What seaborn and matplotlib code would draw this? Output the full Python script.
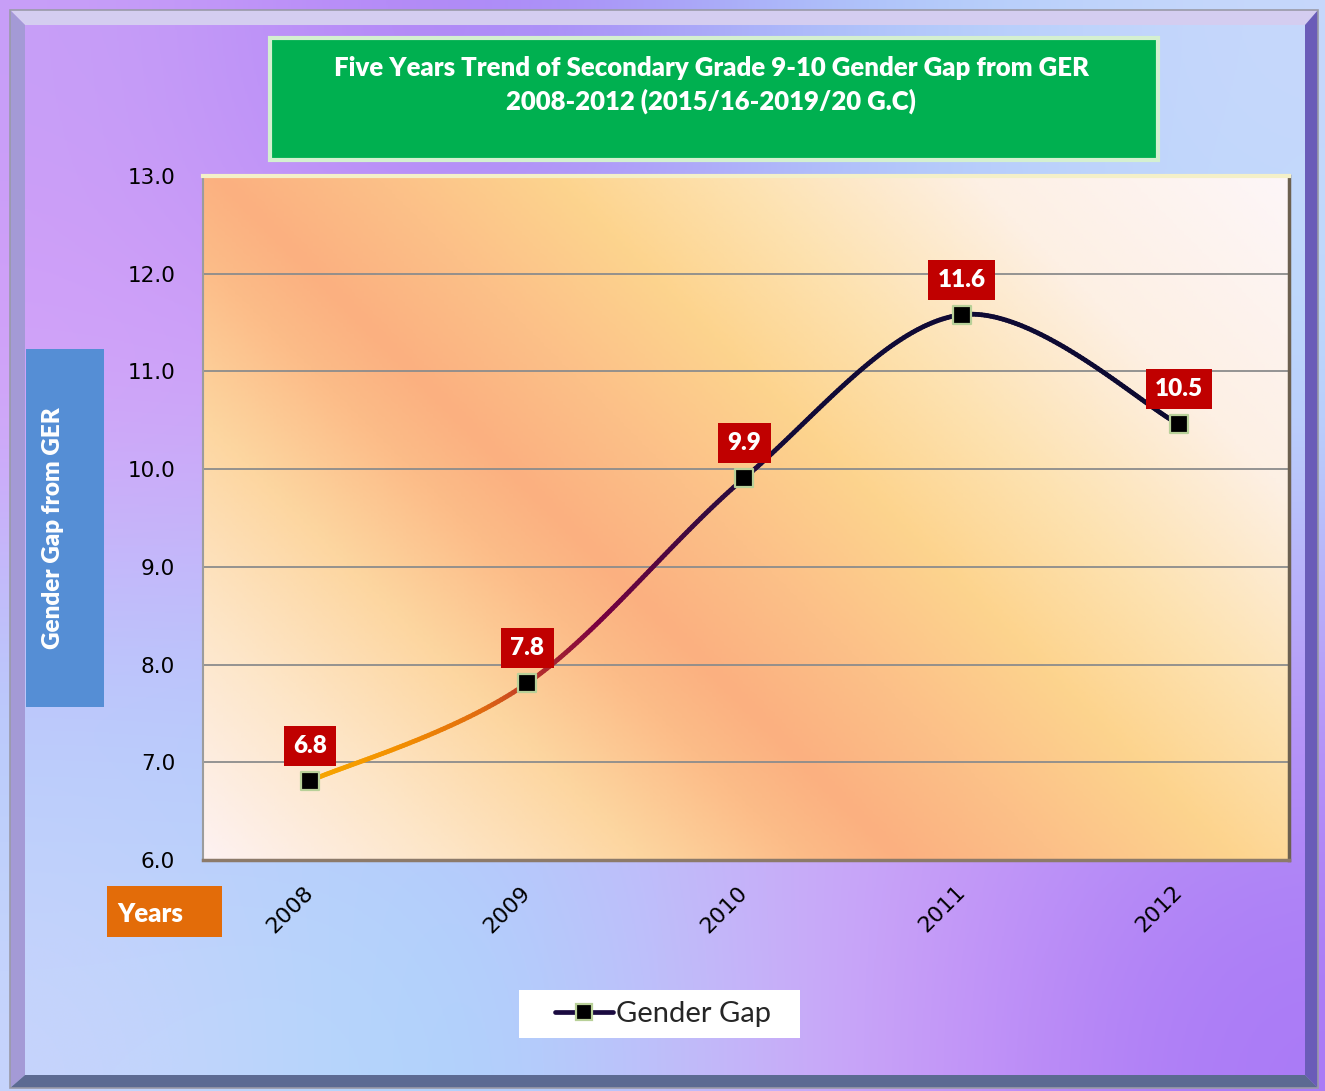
import numpy as np
import pandas as pd
import matplotlib
matplotlib.use('Agg')
import matplotlib.pyplot as plt
import seaborn as sns
from matplotlib.path import Path
from matplotlib.collections import LineCollection
from matplotlib.colors import LinearSegmentedColormap
from matplotlib.lines import Line2D
from matplotlib.patches import Rectangle, Polygon

# chart data
years = ['2008', '2009', '2010', '2011', '2012']
gender_gap = [6.81, 7.81, 9.91, 11.58, 10.46]
series_name = 'Gender Gap'
title_lines = ['Five Years Trend of Secondary Grade 9-10 Gender Gap from GER',
               '2008-2012 (2015/16-2019/20 G.C)']
y_label = 'Gender Gap from GER'
x_label = 'Years'
y_ticks = [6.0, 7.0, 8.0, 9.0, 10.0, 11.0, 12.0, 13.0]

df = pd.DataFrame({'year': years, 'gap': gender_gap})
df['pos'] = range(len(df))

sns.set_style('white')
plt.rcParams['font.family'] = ['DejaVu Sans']

W, H = 1325, 1091
fig = plt.figure(figsize=(W / 100, H / 100), dpi=100)

# ---- figure background (purple / light blue wash)
bg = fig.add_axes([0, 0, 1, 1], zorder=-10)
bg_cols = [['#c8a0f8', '#a878f6', '#a8c8fa', '#c8d8fc'],
           ['#d8a0f8', '#c8a4f8', '#b8c0fc', '#b8dcfc'],
           ['#b4ccfc', '#b8c4fc', '#d0a8f8', '#b898f8'],
           ['#c8d4fc', '#a4d8fc', '#d8a8f8', '#a878f6']]
bg_rgb = np.array([[matplotlib.colors.to_rgb(c) for c in row] for row in bg_cols])
bg.imshow(bg_rgb, extent=[0, 1, 0, 1], aspect='auto', interpolation='bicubic')
bg.set_xlim(0, 1)
bg.set_ylim(0, 1)
bg.axis('off')


def fx(px):
    return px / W


def fy(py):
    return 1 - py / H


# bevelled frame
frame = [
    ([(10, 10), (1318, 10), (1305, 25), (25, 25)], '#d4cdf0'),
    ([(10, 10), (25, 25), (25, 1075), (10, 1088)], '#a49ad6'),
    ([(1318, 10), (1318, 1088), (1305, 1075), (1305, 25)], '#6a5cb8'),
    ([(10, 1088), (1318, 1088), (1305, 1075), (25, 1075)], '#5c6a92'),
]
for pts, col in frame:
    fig.patches.append(Polygon([(fx(a), fy(b)) for a, b in pts], closed=True,
                               transform=fig.transFigure, facecolor=col,
                               edgecolor='none', zorder=-5))
fig.patches.append(Rectangle((fx(10), fy(1088)), fx(1308), 1078 / H,
                             transform=fig.transFigure, fill=False,
                             edgecolor='#9a9aa8', lw=1.2, zorder=-4))

# ---- main plot area
ax = fig.add_axes([fx(203), fy(860), fx(1289) - fx(203), fy(176) - fy(860)])

# peach / yellow diagonal wash inside the plot area
uu, vv = np.meshgrid(np.linspace(0, 1, 300), np.linspace(0, 1, 300))
d = (203 + uu * 1086) - (176 + vv * 684)
stops = [(-660, '#fdf2f2'), (-420, '#fde6c8'), (-220, '#fdd6a0'), (-60, '#fcbc88'),
         (40, '#fbb080'), (200, '#fcc088'), (380, '#fdd48e'), (560, '#fde2b0'),
         (800, '#fdf0e4'), (1113, '#fdf6f8')]
wash = LinearSegmentedColormap.from_list(
    'wash', [((v + 660) / (1113 + 660), c) for v, c in stops])
ax.imshow(wash((d + 660) / (1113 + 660)), extent=[0, 1, 0, 1], transform=ax.transAxes,
          aspect='auto', zorder=0, interpolation='bilinear')

ax.set_xlim(-0.493, 4.507)
ax.set_ylim(6.0, 13.0)
ax.set_yticks(y_ticks)
ax.set_yticklabels([f'{t:.1f}' for t in y_ticks], fontsize=15.5, color='black')
ax.set_xticks(df['pos'])
ax.set_xticklabels(years, fontsize=16, rotation=45, ha='right', va='center',
                   rotation_mode='anchor', color='black')
ax.tick_params(axis='y', length=0, pad=20)
ax.tick_params(axis='x', length=0, pad=21)
for t in y_ticks[1:-1]:
    ax.axhline(t, color='#8c8c8c', lw=1.3, zorder=1)
for s in ax.spines.values():
    s.set_color('#9c9c9c')
    s.set_linewidth(1.5)
ax.spines['top'].set_color('#f4f0c8')
ax.spines['top'].set_linewidth(3)
ax.spines['right'].set_color('#6c6050')
ax.spines['right'].set_linewidth(2.5)
ax.spines['bottom'].set_color('#8c7a6a')
ax.spines['bottom'].set_linewidth(2.5)

# smoothed line (Catmull-Rom style bezier through the points)
x = df['pos'].to_numpy(dtype=float)
y = df['gap'].to_numpy(dtype=float)
pts = np.column_stack([x, y])
ext = np.vstack([pts[0], pts, pts[-1]])
verts = [pts[0]]
codes = [Path.MOVETO]
for i in range(len(pts) - 1):
    p0, p1, p2, p3 = ext[i], ext[i + 1], ext[i + 2], ext[i + 3]
    verts += [p1 + (p2 - p0) / 6, p2 - (p3 - p1) / 6, p2]
    codes += [Path.CURVE4] * 3
path = Path(verts, codes)
curve = np.vstack([seg.point_at_t(np.linspace(0, 1, 80)) for seg, _ in path.iter_bezier()
                   if seg.degree == 3])
segs = np.stack([curve[:-1], curve[1:]], axis=1)
line_cmap = LinearSegmentedColormap.from_list(
    'line', [(0.0, '#f7a800'), (0.1, '#f39000'), (0.2, '#e06a10'), (0.25, '#c03828'),
             (0.33, '#7a0040'), (0.45, '#3a0a40'), (0.55, '#120a38'), (1.0, '#0c0a30')])
lc = LineCollection(segs, cmap=line_cmap, linewidths=3.4, capstyle='round', zorder=3)
lc.set_array((segs[:, 0, 0] + segs[:, 1, 0]) / 2 / 4)
lc.set_clim(0, 1)
ax.add_collection(lc)

sns.scatterplot(data=df, x='pos', y='gap', marker='s', s=150, color='black',
                edgecolor='#b8d098', linewidth=1.6, zorder=4, ax=ax, legend=False)
ax.set_xlabel('')
ax.set_ylabel('')

# data labels
for xi, yi in zip(x, y):
    ax.annotate(f'{yi:.1f}', (xi, yi), xytext=(0, 35), textcoords='offset pixels',
                ha='center', va='center', color='white', fontsize=17.5,
                fontweight='heavy', family='Lato', zorder=5,
                bbox=dict(boxstyle='square,pad=0.38', fc='#c00000', ec='none'))

# ---- title box
fig.patches.append(Rectangle((fx(270), fy(160)), fx(888), 122 / H,
                             transform=fig.transFigure, facecolor='#00b050',
                             edgecolor='#d4f0d0', lw=3, zorder=1))
fig.text(fx(711), fy(68), title_lines[0], ha='center', va='center', color='white',
         fontsize=18.5, fontweight='heavy', family='Lato')
fig.text(fx(711), fy(101), title_lines[1], ha='center', va='center', color='white',
         fontsize=18.5, fontweight='heavy', family='Lato')

# ---- y axis title box
fig.patches.append(Rectangle((fx(26), fy(707)), fx(78), 358 / H,
                             transform=fig.transFigure, facecolor='#558ed5',
                             edgecolor='none', zorder=1))
fig.text(fx(53), fy(528), y_label, rotation=90, ha='center', va='center',
         color='white', fontsize=17.5, fontweight='heavy', family='Lato')

# ---- x axis title box
fig.patches.append(Rectangle((fx(107), fy(937)), fx(115), 51 / H,
                             transform=fig.transFigure, facecolor='#e36c09',
                             edgecolor='none', zorder=1))
fig.text(fx(117), fy(914), x_label, ha='left', va='center', color='white',
         fontsize=18.5, fontweight='heavy', family='Lato')

# ---- legend
fig.patches.append(Rectangle((fx(519), fy(1038)), fx(281), 48 / H,
                             transform=fig.transFigure, facecolor='white',
                             edgecolor='none', zorder=1))
handle = Line2D([], [], color='#1a0a40', lw=3.4, marker='s', markersize=12,
                markerfacecolor='black', markeredgecolor='#b8d098', markeredgewidth=1.6)
leg = fig.legend([handle], [series_name], loc='center left',
                 bbox_to_anchor=(fx(555), fy(1014)), frameon=False,
                 prop={'family': 'Lato', 'size': 21}, handlelength=2.0,
                 handletextpad=0.1, borderpad=0, borderaxespad=0)

fig.savefig('out.png', dpi=100)
